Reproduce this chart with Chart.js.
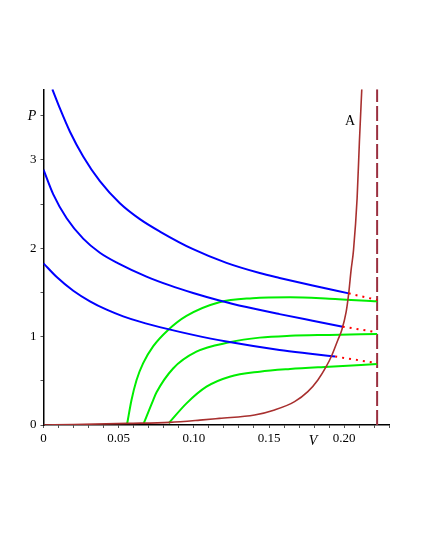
<!DOCTYPE html>
<html>
<head>
<meta charset="utf-8">
<script src="https://cdn.jsdelivr.net/npm/chart.js@4/dist/chart.umd.min.js"></script>
<style>
  html, body { margin: 0; padding: 0; background: #fff; }
  canvas { display: block; }
</style>
</head>
<body>
<canvas id="pv" width="422" height="547"></canvas>
<script>
// valores (V, P)
const blueHighV = [0.0059, 0.011, 0.0176, 0.0264, 0.0375, 0.0508, 0.0641, 0.0774, 0.0995, 0.1217, 0.1438, 0.157, 0.179, 0.203];
const blueHighP = [3.80, 3.58, 3.32, 3.04, 2.76, 2.51, 2.33, 2.19, 1.99, 1.835, 1.72, 1.665, 1.58, 1.49];

const blueMidV = [0, 0.0065, 0.0154, 0.0264, 0.0375, 0.0497, 0.0685, 0.084, 0.0995, 0.117, 0.135, 0.157, 0.179, 0.199];
const blueMidP = [2.89, 2.61, 2.34, 2.11, 1.95, 1.83, 1.68, 1.58, 1.495, 1.41, 1.335, 1.255, 1.18, 1.113];

const blueLowV = [0, 0.0088, 0.0198, 0.0309, 0.042, 0.053, 0.064, 0.0829, 0.0995, 0.1217, 0.157, 0.179, 0.194];
const blueLowP = [1.83, 1.675, 1.52, 1.40, 1.305, 1.23, 1.17, 1.085, 1.02, 0.945, 0.85, 0.805, 0.775];

const greenHighV = [0.0557, 0.0585, 0.0619, 0.0663, 0.0729, 0.0829, 0.0951, 0.117, 0.139, 0.164, 0.19, 0.2219];
const greenHighP = [0.02, 0.28, 0.51, 0.70, 0.89, 1.076, 1.235, 1.39, 1.435, 1.446, 1.43, 1.40];

const greenMidV = [0.0667, 0.0729, 0.0752, 0.0862, 0.1017, 0.1238, 0.1438, 0.164, 0.19, 0.2219];
const greenMidP = [0.02, 0.28, 0.37, 0.64, 0.83, 0.936, 0.989, 1.01, 1.02, 1.03];

const greenLowV = [0.0833, 0.0951, 0.1084, 0.1238, 0.1438, 0.164, 0.19, 0.2219];
const greenLowP = [0.02, 0.245, 0.434, 0.547, 0.604, 0.634, 0.66, 0.69];

const curveAV = [0, 0.02, 0.056, 0.084, 0.104, 0.117, 0.1404, 0.1537, 0.167, 0.1758, 0.1825, 0.188, 0.1918, 0.1958, 0.1984, 0.2013, 0.203, 0.2046, 0.2062, 0.2086, 0.2101, 0.2117];
const curveAP = [0, 0.005, 0.018, 0.03, 0.055, 0.075, 0.113, 0.17, 0.264, 0.377, 0.51, 0.66, 0.79, 0.963, 1.076, 1.28, 1.49, 1.755, 1.98, 2.57, 3.2, 3.8];

// trechos pontilhados (fim da isoterma até a assíntota)
const dotHighV = [0.203, 0.2219];
const dotHighP = [1.49, 1.415];
const dotMidV = [0.199, 0.2219];
const dotMidP = [1.113, 1.05];
const dotLowV = [0.194, 0.2219];
const dotLowP = [0.775, 0.70];

// assíntota vertical
const asymV = [0.2219, 0.2219];
const asymP = [0, 3.8];

const xTickValues = [0, 0.05, 0.10, 0.15, 0.20];
const xTickLabels = ["0", "0.05", "0.10", "0.15", "0.20"];
const yTickValues = [0, 1, 2, 3];
const yTickLabels = ["0", "1", "2", "3"];

function pts(v, p) {
  return v.map((x, i) => ({ x: x, y: p[i] }));
}

function labelFor(value, values, labels) {
  for (let i = 0; i < values.length; i++) {
    if (Math.abs(value - values[i]) < 1e-9) return labels[i];
  }
  return "";
}

function curve(data, color, width, extra) {
  return Object.assign({
    data: data,
    showLine: true,
    borderColor: color,
    borderWidth: width,
    pointRadius: 0,
    fill: false,
    cubicInterpolationMode: "monotone"
  }, extra || {});
}

// textos dos eixos e rótulo A
const axisText = {
  id: "axisText",
  afterDraw(chart) {
    const ctx = chart.ctx;
    ctx.save();
    ctx.fillStyle = "#000";
    ctx.textAlign = "center";
    ctx.textBaseline = "middle";
    ctx.font = "italic 14px 'Liberation Serif'";
    ctx.fillText("P", 32, 116);
    ctx.fillText("V", 313, 441);
    ctx.font = "14px 'Liberation Serif'";
    ctx.fillText("A", 350, 121);
    ctx.restore();
  }
};

const ctx = document.getElementById("pv").getContext("2d");
new Chart(ctx, {
  type: "scatter",
  data: {
    datasets: [
      curve(pts(dotHighV, dotHighP), "#ff0000", 2, { borderDash: [2, 5], cubicInterpolationMode: "default" }),
      curve(pts(dotMidV, dotMidP), "#ff0000", 2, { borderDash: [2, 5], cubicInterpolationMode: "default" }),
      curve(pts(dotLowV, dotLowP), "#ff0000", 2, { borderDash: [2, 5], cubicInterpolationMode: "default" }),
      curve(pts(curveAV, curveAP), "#a8302f", 1.6),
      curve(pts(blueHighV, blueHighP), "#0000ff", 2),
      curve(pts(blueMidV, blueMidP), "#0000ff", 2),
      curve(pts(blueLowV, blueLowP), "#0000ff", 2),
      curve(pts(greenHighV, greenHighP), "#00ee00", 2),
      curve(pts(greenMidV, greenMidP), "#00ee00", 2),
      curve(pts(greenLowV, greenLowP), "#00ee00", 2),
      curve(pts(asymV, asymP), "#9a2f3f", 2, { borderDash: [15, 4], cubicInterpolationMode: "default" })
    ]
  },
  options: {
    responsive: false,
    animation: false,
    layout: { padding: { left: 0, right: 32.7, top: 89.3, bottom: 92 } },
    plugins: {
      legend: { display: false },
      tooltip: { enabled: false }
    },
    scales: {
      x: {
        type: "linear",
        min: 0,
        max: 0.23,
        afterFit: function (s) { s.height = 30; },
        border: { color: "#000", width: 1.5 },
        grid: { drawOnChartArea: false, drawTicks: true, tickLength: 3, color: "#555" },
        ticks: {
          stepSize: 0.01,
          autoSkip: false,
          maxRotation: 0,
          padding: 3,
          color: "#000",
          font: { family: "'Liberation Serif'", size: 13 },
          callback: function (value) { return labelFor(value, xTickValues, xTickLabels); }
        }
      },
      y: {
        type: "linear",
        min: 0,
        max: 3.8,
        afterFit: function (s) { s.width = 43.5; },
        afterBuildTicks: function (s) {
          s.ticks = s.ticks.filter(t => Math.abs(t.value * 2 - Math.round(t.value * 2)) < 1e-9);
        },
        border: { color: "#000", width: 1.5 },
        grid: { drawOnChartArea: false, drawTicks: true, tickLength: 3, color: "#555" },
        ticks: {
          stepSize: 0.5,
          autoSkip: false,
          padding: 4,
          color: "#000",
          font: { family: "'Liberation Serif'", size: 13 },
          callback: function (value) { return labelFor(value, yTickValues, yTickLabels); }
        }
      }
    }
  },
  plugins: [axisText]
});
</script>
</body>
</html>
